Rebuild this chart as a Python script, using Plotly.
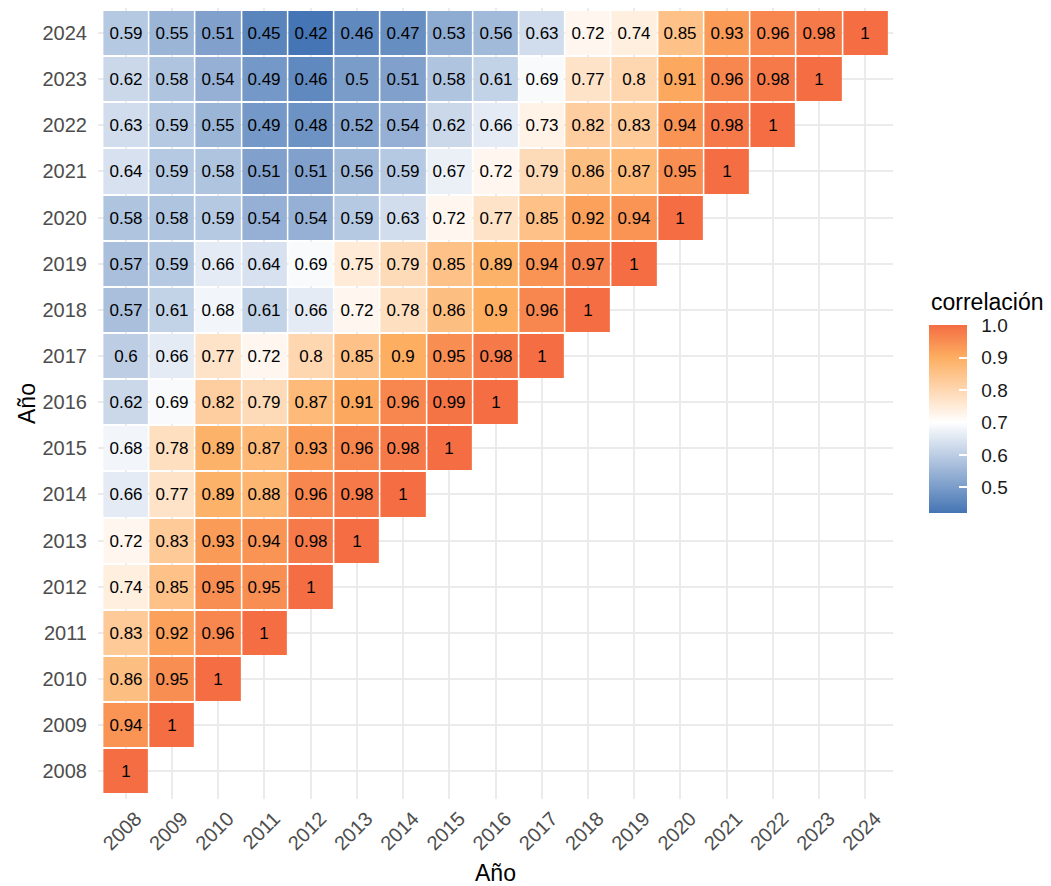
import plotly.graph_objects as go

years = list(range(2008, 2025))

# correlation rows: row year -> values for x = 2008 .. row year
row_2008 = [1]
row_2009 = [0.94, 1]
row_2010 = [0.86, 0.95, 1]
row_2011 = [0.83, 0.92, 0.96, 1]
row_2012 = [0.74, 0.85, 0.95, 0.95, 1]
row_2013 = [0.72, 0.83, 0.93, 0.94, 0.98, 1]
row_2014 = [0.66, 0.77, 0.89, 0.88, 0.96, 0.98, 1]
row_2015 = [0.68, 0.78, 0.89, 0.87, 0.93, 0.96, 0.98, 1]
row_2016 = [0.62, 0.69, 0.82, 0.79, 0.87, 0.91, 0.96, 0.99, 1]
row_2017 = [0.6, 0.66, 0.77, 0.72, 0.8, 0.85, 0.9, 0.95, 0.98, 1]
row_2018 = [0.57, 0.61, 0.68, 0.61, 0.66, 0.72, 0.78, 0.86, 0.9, 0.96, 1]
row_2019 = [0.57, 0.59, 0.66, 0.64, 0.69, 0.75, 0.79, 0.85, 0.89, 0.94, 0.97, 1]
row_2020 = [0.58, 0.58, 0.59, 0.54, 0.54, 0.59, 0.63, 0.72, 0.77, 0.85, 0.92, 0.94, 1]
row_2021 = [0.64, 0.59, 0.58, 0.51, 0.51, 0.56, 0.59, 0.67, 0.72, 0.79, 0.86, 0.87, 0.95, 1]
row_2022 = [0.63, 0.59, 0.55, 0.49, 0.48, 0.52, 0.54, 0.62, 0.66, 0.73, 0.82, 0.83, 0.94, 0.98, 1]
row_2023 = [0.62, 0.58, 0.54, 0.49, 0.46, 0.5, 0.51, 0.58, 0.61, 0.69, 0.77, 0.8, 0.91, 0.96, 0.98, 1]
row_2024 = [0.59, 0.55, 0.51, 0.45, 0.42, 0.46, 0.47, 0.53, 0.56, 0.63, 0.72, 0.74, 0.85, 0.93, 0.96, 0.98, 1]

rows = [row_2008, row_2009, row_2010, row_2011, row_2012, row_2013, row_2014, row_2015,
        row_2016, row_2017, row_2018, row_2019, row_2020, row_2021, row_2022, row_2023, row_2024]

colorbar_ticks = [0.5, 0.6, 0.7, 0.8, 0.9, 1.0]

n = len(years)
z = []
txt = []
for r in rows:
    zr = list(r) + [None] * (n - len(r))
    tr = [f"{v:g}" for v in r] + [""] * (n - len(r))
    z.append(zr)
    txt.append(tr)

zmin, zmax = 0.42, 1.0
def frac(v):
    return (v - zmin) / (zmax - zmin)

colorscale = [
    [0.0, "#4575b4"],
    [frac(0.7), "#ffffff"],
    [frac(0.9), "#fdae61"],
    [1.0, "#f46d43"],
]

FONT = "Liberation Sans, Arial, sans-serif"

cb_common = dict(
    x=1.0448, xanchor="left", xpad=0,
    y=0.3613, yanchor="bottom", ypad=0,
    thickness=38, len=188, lenmode="pixels",
    outlinewidth=0,
    tickvals=colorbar_ticks, ticktext=[f"{v:.1f}" for v in colorbar_ticks],
)

fig = go.Figure()
# base layer: carries the labelled colour bar
fig.add_trace(go.Heatmap(
    x=years, y=years, z=z,
    colorscale=colorscale, zmin=zmin, zmax=zmax,
    xgap=2, ygap=2, hoverinfo="skip",
    colorbar=dict(**cb_common,
                  ticks="outside", ticklen=11, tickcolor="rgba(0,0,0,0)",
                  tickfont=dict(family=FONT, size=19, color="#1a1a1a")),
))
# top layer: same tiles with labels, colour bar with white inner ticks
fig.add_trace(go.Heatmap(
    x=years, y=years, z=z, text=txt, texttemplate="%{text}",
    textfont=dict(family=FONT, size=17, color="black"),
    colorscale=colorscale, zmin=zmin, zmax=zmax,
    xgap=2, ygap=2, hoverinfo="skip",
    colorbar=dict(**cb_common,
                  ticks="inside", ticklen=8, tickcolor="white", tickwidth=1.5,
                  showticklabels=False),
))

axis_common = dict(
    tickvals=years, ticktext=[str(y) for y in years],
    showgrid=True, gridcolor="#ebebeb", gridwidth=2,
    zeroline=False, showline=False, ticks="",
    tickfont=dict(family=FONT, size=20, color="#4d4d4d"),
    automargin=False,
)

fig.update_xaxes(**axis_common, tickangle=-45, range=[2007.4, 2024.6],
                 ticklabelshift=10, ticklabelstandoff=3,
                 title=dict(text="Año", standoff=11,
                            font=dict(family=FONT, size=23, color="black")))
fig.update_yaxes(**axis_common, ticklabelstandoff=10, range=[2007.4, 2024.543],
                 title=dict(text="Año", standoff=0,
                            font=dict(family=FONT, size=23, color="black")))

fig.add_annotation(
    text="correlación", xref="paper", yref="paper",
    x=1.0448, y=(790.7 - 294) / 790.7, xanchor="left", yanchor="middle",
    showarrow=False, font=dict(family=FONT, size=23, color="black"),
)

fig.update_layout(
    width=1051, height=886,
    margin=dict(l=90, r=165.6, t=0, b=95.3, autoexpand=False),
    plot_bgcolor="white", paper_bgcolor="white",
    font=dict(family=FONT),
)

fig.write_html("out.html")
